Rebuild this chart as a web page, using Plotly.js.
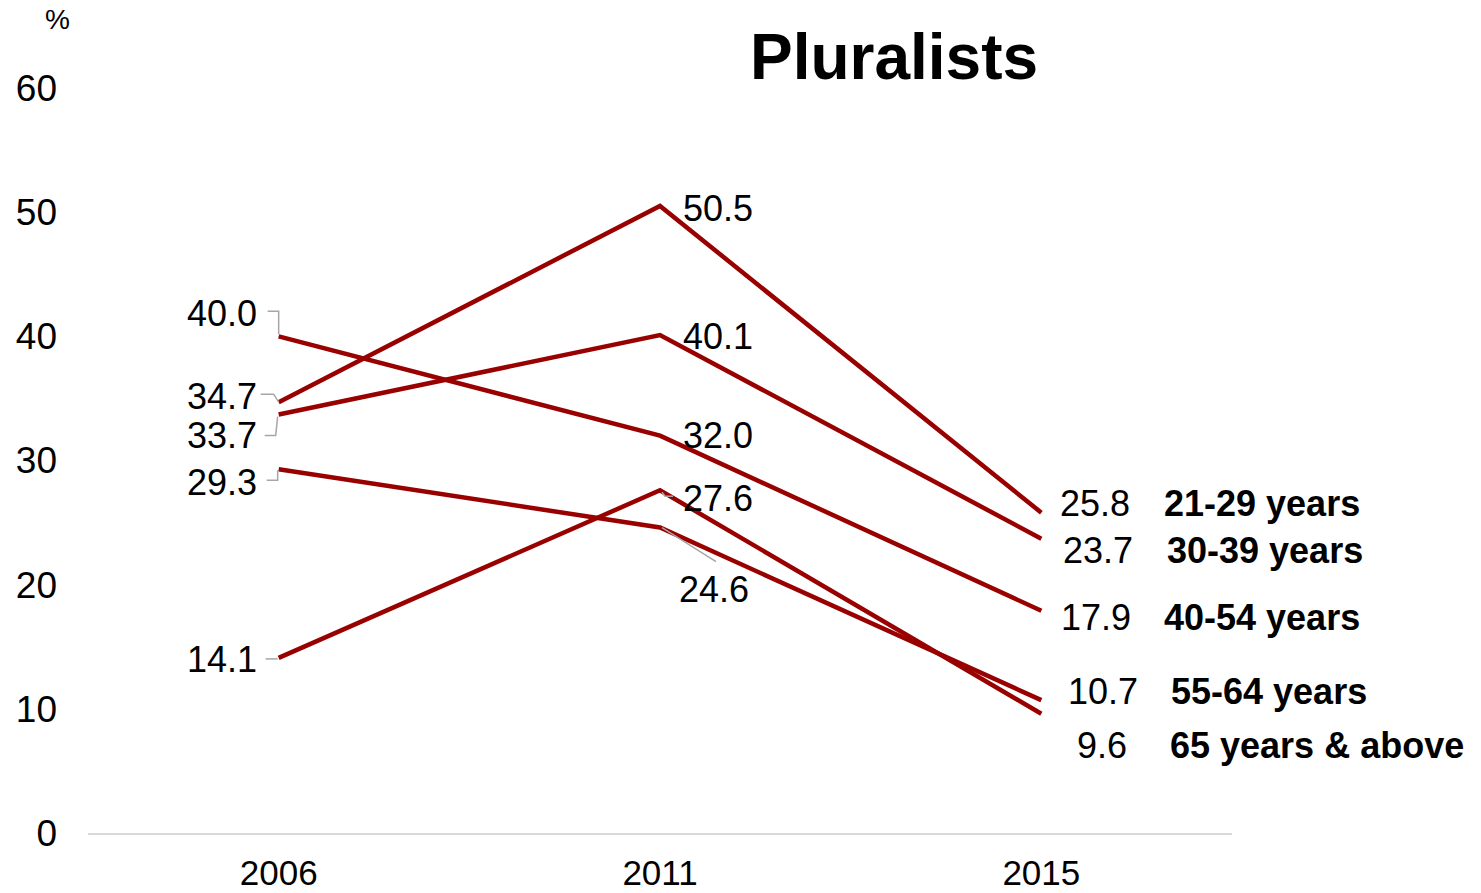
<!DOCTYPE html>
<html>
<head>
<meta charset="utf-8">
<script src="https://cdn.plot.ly/plotly-3.0.1.min.js"></script>
<style>html,body{margin:0;padding:0;background:#fff;}#chart{width:1481px;height:893px;}</style>
</head>
<body>
<div id="chart"></div>
<script>
// ---- data ----
const years = ['2006', '2011', '2015'];
const groups = ['21-29 years', '30-39 years', '40-54 years', '55-64 years', '65 years & above'];
const v2129 = [34.7, 50.5, 25.8];
const v3039 = [33.7, 40.1, 23.7];
const v4054 = [40.0, 32.0, 17.9];
const v5564 = [29.3, 24.6, 10.7];
const v65plus = [14.1, 27.6, 9.6];
const yTicks = [0, 10, 20, 30, 40, 50, 60];

const seriesValues = [v2129, v3039, v4054, v5564, v65plus];

// ---- styling / label placement (pixels) ----
const FONT = 'Liberation Sans, Arial, sans-serif';
const LINE_COLOR = '#990000';
const LEADER_COLOR = '#a6a6a6';
// [xshift, yshift] per series, per year
const labelPos = [
  [[-20, 6],  [21, -3],  [17, 9]],
  [[-20, -21],[21, -1],  [20, -12]],
  [[-20, 23], [21, 0],   [18, -7]],
  [[-20, -13],[17, -62], [25, 9]],
  [[-20, -2], [21, -8],  [34, -32]]
];
const nameShift = [[121, 9], [124, -12], [121, -7], [128, 9], [127, -32]];
// leader line paths (pixel offsets from the data point; y positive = up)
const leaders = [
  [0, 'M -18,8 L -5,8 L 0,0'],
  [1, 'M -14,-21 L -3,-21 L -1,-2'],
  [2, 'M -11,25 L 0,25 L 0,2'],
  [3, 'M -12,-11 L -1,-11 L -1,-1'],
  [4, 'M -13,-1 L -1,-1'],
  [4, 'M 2,-2 L 5,-6 L 13,-6', 1],
  [3, 'M 2,0 L 56,-34', 1]
];

const traces = seriesValues.map((vals, i) => ({
  type: 'scatter',
  mode: 'lines',
  x: years,
  y: vals,
  name: groups[i],
  line: {color: LINE_COLOR, width: 4.5},
  hoverinfo: 'skip'
}));

const annotations = [];
seriesValues.forEach((vals, i) => {
  vals.forEach((v, j) => {
    annotations.push({
      x: j, y: v, xref: 'x', yref: 'y',
      text: v.toFixed(1),
      showarrow: false,
      xanchor: j === 0 ? 'right' : 'left',
      yanchor: 'middle',
      xshift: labelPos[i][j][0],
      yshift: labelPos[i][j][1],
      font: {family: FONT, size: 36, color: '#000'}
    });
  });
  annotations.push({
    x: years.length - 1, y: vals[vals.length - 1], xref: 'x', yref: 'y',
    text: '<b>' + groups[i].replace('&', '&amp;') + '</b>',
    showarrow: false,
    xanchor: 'left', yanchor: 'middle',
    xshift: nameShift[i][0], yshift: nameShift[i][1],
    font: {family: FONT, size: 36, color: '#000'}
  });
});
annotations.push({
  xref: 'paper', yref: 'paper',
  x: -0.027, y: 1.092,
  text: '%', showarrow: false,
  xanchor: 'center', yanchor: 'middle',
  font: {family: FONT, size: 28, color: '#000'}
});

const shapes = leaders.map(([si, path, yi]) => {
  const j = yi || 0;
  return {
    type: 'path', xref: 'x', yref: 'y',
    xsizemode: 'pixel', ysizemode: 'pixel',
    xanchor: j, yanchor: seriesValues[si][j],
    path: path,
    line: {color: LEADER_COLOR, width: 1.5}
  };
});

const layout = {
  width: 1481, height: 893,
  margin: {l: 88, r: 249, t: 88, b: 60},
  paper_bgcolor: '#fff', plot_bgcolor: '#fff',
  showlegend: false,
  hovermode: false,
  font: {family: FONT, color: '#000'},
  title: {
    text: '<b>Pluralists</b>',
    font: {family: FONT, size: 64, color: '#000'},
    xref: 'container', yref: 'container',
    x: 894 / 1481, xanchor: 'center',
    y: 1 - 57 / 893, yanchor: 'middle'
  },
  xaxis: {
    type: 'category',
    range: [-0.5, 2.5],
    showgrid: false, zeroline: false,
    showline: true, linecolor: '#d9d9d9', linewidth: 2,
    ticks: '',
    ticklabelstandoff: 8,
    tickfont: {family: FONT, size: 35, color: '#000'}
  },
  yaxis: {
    range: [0, 60],
    tickvals: yTicks,
    showgrid: false, zeroline: false, showline: false,
    ticks: '',
    ticklabelstandoff: 30,
    tickfont: {family: FONT, size: 37, color: '#000'}
  },
  annotations: annotations,
  shapes: shapes
};

Plotly.newPlot('chart', traces, layout, {staticPlot: true, displayModeBar: false});
</script>
</body>
</html>
